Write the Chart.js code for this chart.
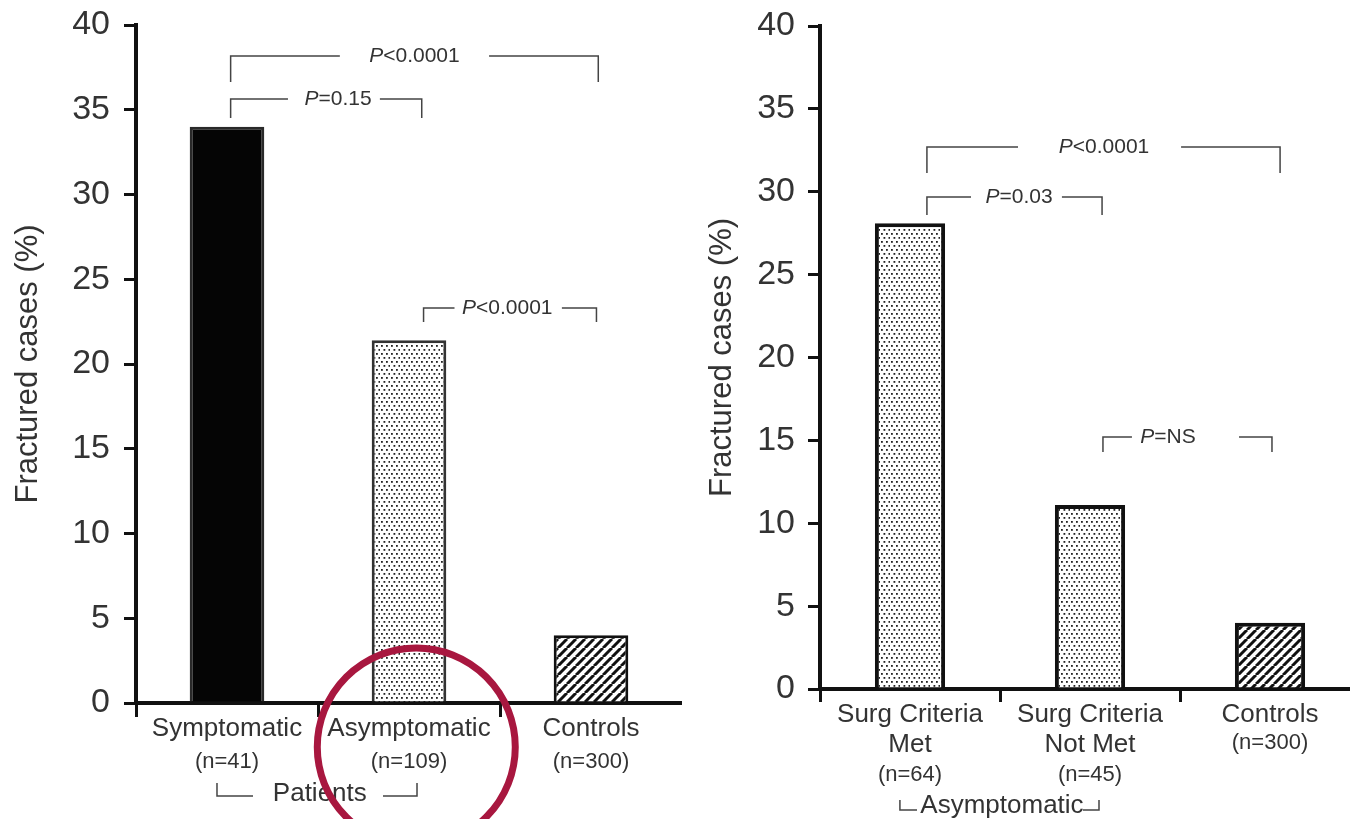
<!DOCTYPE html>
<html>
<head>
<meta charset="utf-8">
<script src="https://cdn.jsdelivr.net/npm/chart.js@4.4.1/dist/chart.umd.min.js"></script>
<style>
  html, body { margin: 0; padding: 0; background: #fff; overflow: hidden; }
  #page { position: relative; width: 1350px; height: 819px; overflow: hidden; background: #fff; }
  .panel { position: absolute; top: 0; height: 819px; }
  #leftPanel { left: 0; width: 682px; }
  #rightPanel { left: 680px; width: 690px; }
</style>
</head>
<body>
<div id="page">
  <div class="panel" id="leftPanel"><canvas id="leftChart"></canvas></div>
  <div class="panel" id="rightPanel"><canvas id="rightChart"></canvas></div>
</div>
<script>
// data
const leftCategories = [["Symptomatic"], ["Asymptomatic"], ["Controls"]];
const leftCounts = ["(n=41)", "(n=109)", "(n=300)"];
const leftValues = [34.0, 21.4, 4.0];

const rightCategories = [["Surg Criteria", "Met"], ["Surg Criteria", "Not Met"], ["Controls"]];
const rightCounts = ["(n=64)", "(n=45)", "(n=300)"];
const rightValues = [28.1, 11.1, 4.0];

const yMin = 0;
const yMax = 40;
const yStep = 5;
const yTitle = "Fractured cases (%)";

const leftGroup = "Patients";
const rightGroup = "Asymptomatic";

// significance brackets (category index positions, y in % units)
const leftBrackets = [
  { label: "<0.0001", from: 0.02, to: 2.04, y: 38.17, foot: 36.64, at: 1.03, cutL: 0.62, cutR: 1.44 },
  { label: "=0.15", from: 0.02, to: 1.07, y: 35.63, foot: 34.51, at: 0.61, cutL: 0.335, cutR: 0.84 },
  { label: "<0.0001", from: 1.08, to: 2.03, y: 23.3, foot: 22.48, at: 1.54, cutL: 1.25, cutR: 1.84 },
];
const rightBrackets = [
  { label: "<0.0001", from: 0.094, to: 2.056, y: 32.7, foot: 31.13, at: 1.078, cutL: 0.6, cutR: 1.506 },
  { label: "=0.03", from: 0.094, to: 1.067, y: 29.68, foot: 28.6, at: 0.606, cutL: 0.339, cutR: 0.844 },
  { label: "=NS", from: 1.072, to: 2.011, y: 15.2, foot: 14.3, at: 1.433, cutL: 1.233, cutR: 1.828 },
];

const FONT = "'Liberation Sans', Arial, Helvetica, sans-serif";

function dotPattern() {
  const c = document.createElement("canvas");
  c.width = 10; c.height = 8;
  const g = c.getContext("2d");
  g.fillStyle = "#fff";
  g.fillRect(0, 0, 10, 8);
  g.fillStyle = "#222";
  [[1, 1], [6, 1], [3.5, 5], [8.5, 5]].forEach(([x, y]) => g.fillRect(x, y, 1.8, 1.8));
  return g.createPattern(c, "repeat");
}

function hatchPattern() {
  const s = 9;
  const c = document.createElement("canvas");
  c.width = s; c.height = s;
  const g = c.getContext("2d");
  g.fillStyle = "#fff";
  g.fillRect(0, 0, s, s);
  g.strokeStyle = "#111";
  g.lineWidth = 3;
  [-s, 0, s].forEach((o) => {
    g.beginPath();
    g.moveTo(o, s);
    g.lineTo(o + s, 0);
    g.stroke();
  });
  return g.createPattern(c, "repeat");
}

const dots = dotPattern();
const hatch = hatchPattern();

const annotPlugin = {
  id: "annot",
  afterDraw(chart, args, opts) {
    const { ctx, chartArea } = chart;
    const xs = chart.scales.x;
    const ys = chart.scales.y;
    const x0 = xs.getPixelForTick(0);
    const step = xs.getPixelForTick(1) - x0;
    const px = (v) => x0 + v * step;
    const bottom = chartArea.bottom;

    ctx.save();
    ctx.textAlign = "center";
    ctx.textBaseline = "middle";

    // n counts under category labels
    ctx.fillStyle = "#333";
    ctx.font = "22px " + FONT;
    opts.counts.forEach((t, i) => {
      const lines = chart.data.labels[i].length;
      ctx.fillText(t, px(i), bottom + opts.countOffset + (lines - 1) * opts.countStep);
    });

    // brackets
    ctx.strokeStyle = "#444";
    ctx.lineWidth = 1.5;
    opts.brackets.forEach((b) => {
      const ly = ys.getPixelForValue(b.y);
      const fy = ys.getPixelForValue(b.foot);
      ctx.beginPath();
      ctx.moveTo(px(b.from), fy);
      ctx.lineTo(px(b.from), ly);
      ctx.lineTo(px(b.cutL), ly);
      ctx.moveTo(px(b.cutR), ly);
      ctx.lineTo(px(b.to), ly);
      ctx.lineTo(px(b.to), fy);
      ctx.stroke();

      const italic = "italic 21px " + FONT;
      const normal = "21px " + FONT;
      ctx.font = italic;
      const wP = ctx.measureText("P").width;
      ctx.font = normal;
      const wR = ctx.measureText(b.label).width;
      const start = px(b.at) - (wP + wR) / 2;
      ctx.textAlign = "left";
      ctx.font = italic;
      ctx.fillText("P", start, ly);
      ctx.font = normal;
      ctx.fillText(b.label, start + wP, ly);
      ctx.textAlign = "center";
    });

    // group label with bracket
    const g = opts.group;
    ctx.font = "26px " + FONT;
    ctx.fillStyle = "#333";
    ctx.fillText(g.text, px(g.at), bottom + g.dy);
    ctx.beginPath();
    ctx.moveTo(px(g.l), bottom + g.top);
    ctx.lineTo(px(g.l), bottom + g.bot);
    ctx.lineTo(px(g.l2), bottom + g.bot);
    ctx.moveTo(px(g.r2), bottom + g.bot);
    ctx.lineTo(px(g.r), bottom + g.bot);
    ctx.lineTo(px(g.r), bottom + g.top);
    ctx.stroke();

    // highlight circle
    if (opts.circle) {
      const c = opts.circle;
      ctx.strokeStyle = "#a8173f";
      ctx.lineWidth = 7;
      ctx.beginPath();
      ctx.arc(px(c.at), bottom + c.dy, c.r, 0, Math.PI * 2);
      ctx.stroke();
    }
    ctx.restore();
  },
};

function makeChart(id, cfg) {
  return new Chart(document.getElementById(id), {
    type: "bar",
    data: {
      labels: cfg.categories,
      datasets: [
        {
          data: cfg.values,
          backgroundColor: cfg.fills,
          borderColor: cfg.borders,
          borderWidth: cfg.borderWidth,
          borderSkipped: "start",
          barPercentage: cfg.barPct,
          categoryPercentage: 1,
        },
      ],
    },
    options: {
      responsive: true,
      maintainAspectRatio: false,
      animation: false,
      events: [],
      layout: { padding: { top: cfg.top, right: cfg.padRight, left: 0, bottom: 0 } },
      plugins: {
        legend: { display: false },
        tooltip: { enabled: false },
        annot: cfg.annot,
      },
      scales: {
        x: {
          offset: true,
          grid: {
            offset: true,
            drawOnChartArea: false,
            drawTicks: true,
            tickLength: cfg.xTick,
            lineWidth: 3,
            tickColor: (c) => (c.type === "tick" ? "#111" : "rgba(0,0,0,0)"),
          },
          border: { display: true, color: "#111", width: 4 },
          ticks: {
            font: { family: FONT, size: 26, lineHeight: 1.18 },
            color: "#333",
            padding: cfg.xPad,
            maxRotation: 0,
            autoSkip: false,
          },
          afterFit: (s) => { s.height = cfg.xHeight; },
        },
        y: {
          min: yMin,
          max: yMax,
          ticks: { stepSize: yStep, font: { family: FONT, size: 34 }, color: "#333", padding: cfg.yPad },
          grid: { drawOnChartArea: false, tickLength: 12, lineWidth: 3, tickColor: "#111" },
          border: { color: "#111", width: 4 },
          title: {
            display: true,
            text: yTitle,
            font: { family: FONT, size: 31 },
            color: "#333",
            padding: { top: cfg.titlePad, bottom: 0 },
          },
          afterFit: (s) => {
            s.width = cfg.yWidth;
            s.paddingTop = 0;
            s.paddingBottom = 0;
          },
        },
      },
    },
    plugins: [annotPlugin],
  });
}

makeChart("leftChart", {
  categories: leftCategories,
  values: leftValues,
  fills: ["#050505", dots, hatch],
  borders: ["#2a2a2a", "#333", "#111"],
  borderWidth: 3,
  barPct: 0.41,
  top: 25,
  padRight: 0,
  xHeight: 116,
  xTick: 14,
  xPad: -4,
  yWidth: 136,
  yPad: 14,
  titlePad: 10,
  annot: {
    counts: leftCounts,
    countOffset: 59,
    countStep: 32,
    brackets: leftBrackets,
    group: { text: leftGroup, at: 0.51, dy: 91, l: -0.055, l2: 0.143, r2: 0.857, r: 1.044, top: 80, bot: 93 },
    circle: { at: 1.04, dy: 44, r: 99 },
  },
});

makeChart("rightChart", {
  categories: rightCategories,
  values: rightValues,
  fills: [dots, dots, hatch],
  borders: ["#111", "#111", "#111"],
  borderWidth: 4,
  barPct: 0.39,
  top: 26,
  padRight: 10,
  xHeight: 130,
  xTick: 13,
  xPad: -3,
  yWidth: 140,
  yPad: 13,
  titlePad: 24,
  annot: {
    counts: rightCounts,
    countOffset: 54,
    countStep: 32,
    brackets: rightBrackets,
    group: { text: rightGroup, at: 0.511, dy: 117, l: -0.056, l2: 0.039, r2: 0.961, r: 1.05, top: 111, bot: 121 },
    circle: null,
  },
});
</script>
</body>
</html>
